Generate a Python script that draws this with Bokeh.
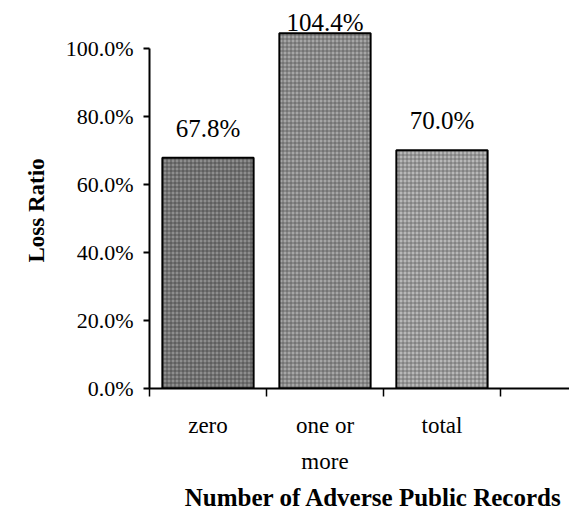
from bokeh.plotting import figure
from bokeh.models import (ColumnDataSource, Range1d, FixedTicker, NumeralTickFormatter,
                          LabelSet, Title)
from bokeh.embed import file_html
from bokeh.resources import INLINE

# Loss ratio by number of adverse public records
categories = ["zero", "one or\nmore", "total"]
loss_ratio = [0.678, 1.044, 0.700]
value_labels = ["67.8%", "104.4%", "70.0%"]
y_ticks = [0.0, 0.2, 0.4, 0.6, 0.8, 1.0]

SERIF = "Liberation Serif"

xs = [i + 0.5 for i in range(len(categories))]
# value labels sit just above each bar; the bar that overruns the axis gets a tighter gap
label_off = [21 if v <= 1.0 else 2 for v in loss_ratio]

src = ColumnDataSource(dict(
    x=xs, top=loss_ratio, text=value_labels, loff=label_off,
    fill=["#8e8e8e", "#a6a6a6", "#b8b8b8"],
    hatch=["#3a3a3a", "#4e4e4e", "#5a5a5a"],
))

p = figure(width=569, height=522, output_backend="svg", toolbar_location=None,
           x_range=Range1d(0, 3.59), y_range=Range1d(0, 1.14),
           min_border_left=149, min_border_right=0, min_border_top=0,
           min_border_bottom=134)
p.outline_line_color = None
p.grid.visible = False
p.background_fill_color = "white"
p.border_fill_color = "white"

p.vbar(x="x", top="top", width=0.78, bottom=0, source=src,
       fill_color="fill", line_color="black", line_width=2,
       hatch_pattern="+", hatch_color="hatch", hatch_scale=4,
       hatch_weight=1, hatch_alpha=0.7)

labels = LabelSet(x="x", y="top", text="text", y_offset="loff", source=src,
                  text_align="center", text_baseline="alphabetic",
                  text_font=SERIF, text_font_size="25px", text_color="black")
p.add_layout(labels)

# y axis: percent ticks, outward tick marks, line stops at 100%
ya = p.yaxis[0]
ya.ticker = FixedTicker(ticks=y_ticks)
ya.bounds = (0, 1.0)
ya.formatter = NumeralTickFormatter(format="0.0%")
ya.axis_line_width = 2
ya.major_tick_line_width = 2
ya.major_tick_out = 6
ya.major_tick_in = 0
ya.minor_tick_line_color = None
ya.major_label_text_font = SERIF
ya.major_label_text_font_size = "22px"
ya.major_label_text_color = "black"
ya.major_label_standoff = 10

# x axis: category names centred, tick marks on the category boundaries
xa = p.xaxis[0]
xa.ticker = FixedTicker(ticks=xs, minor_ticks=[0, 1, 2, 3])
xa.major_label_overrides = {x: c for x, c in zip(xs, categories)}
xa.axis_line_width = 2
xa.major_tick_out = 0
xa.major_tick_in = 0
xa.minor_tick_out = 8
xa.minor_tick_in = 0
xa.minor_tick_line_width = 1.5
xa.minor_tick_line_color = "black"
xa.major_label_text_font = SERIF
xa.major_label_text_font_size = "23px"
xa.major_label_text_color = "black"
xa.major_label_text_line_height = 1.45
xa.major_label_standoff = 16

# axis titles, positioned along the axis part of the frame
p.add_layout(Title(text="Loss Ratio", align="left", offset=126,
                   text_font=SERIF, text_font_size="23px",
                   text_font_style="bold", text_color="black", standoff=28), "left")
p.add_layout(Title(text="Number of Adverse Public Records", align="right",
                   offset=7, text_font=SERIF, text_font_size="25px",
                   text_font_style="bold", text_color="black", standoff=11), "below")

open("out.html", "w").write(file_html(p, INLINE))
